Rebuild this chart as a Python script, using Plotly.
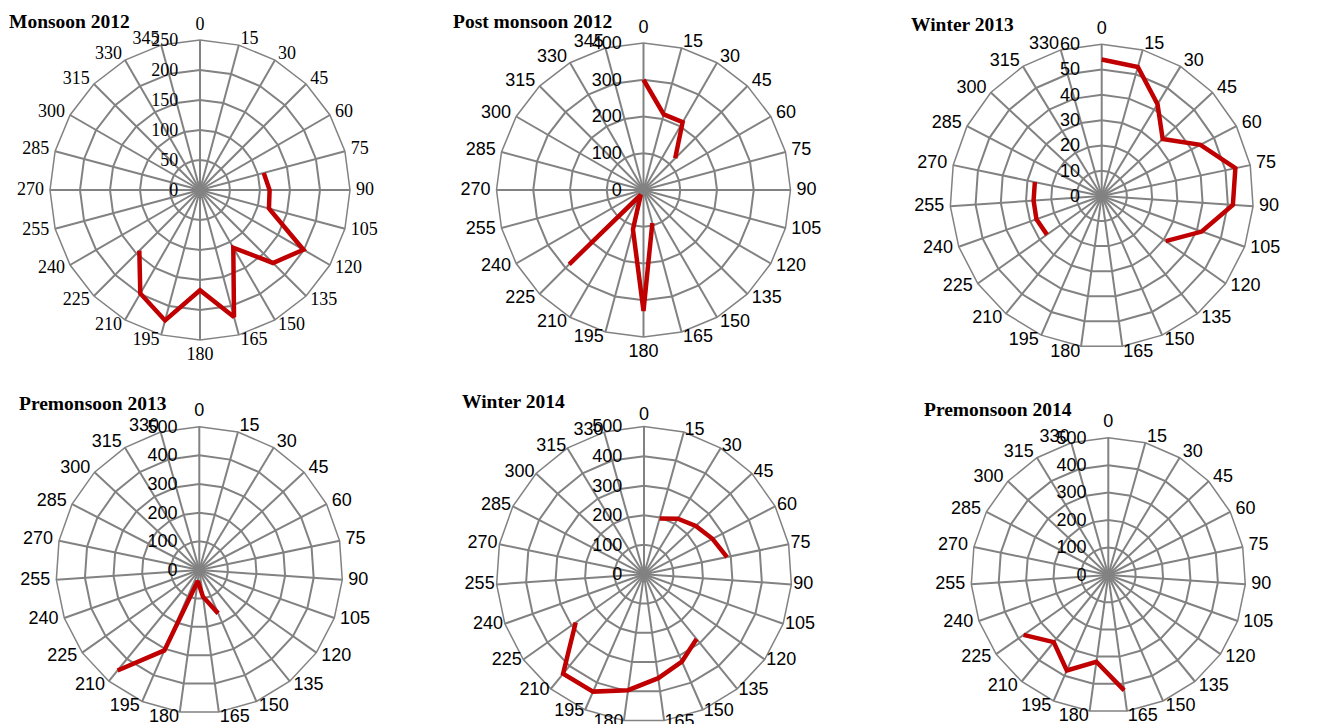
import plotly.graph_objects as go

# Wind-direction categories (degrees)
dirs_24 = [str(d) for d in range(0, 360, 15)]        # 0 .. 345
dirs_23 = [str(d) for d in range(0, 345, 15)]        # 0 .. 330

# Frequency per direction for each season (None = no observation)
monsoon_2012 = [None, None, None, None, None, 110, 116, 119, 199, 172, 111, 219,
                167, 225, 199, 143, None, None, None, None, None, None, None, None]
post_monsoon_2012 = [300, 213, 213, 122, None, None, None, None, None, None, None, 93,
                     329, 111, 15, 286, None, None, None, None, None, None, None, None]
winter_2013 = [54, 53, 42.5, 33, 44, 54, 52, 42, 31, None, None, None,
               None, None, None, 26.5, 27.4, 27, 27, None, None, None, None]
premonsoon_2013 = [None, None, None, None, None, None, None, None, None, None, 165, 94,
                   39, 306, 452, None, None, None, None, None, None, None, None]
winter_2014 = [None, 196, 220, 240, 261, 287, None, None, None, 282, 322, 355,
               396, 433, 434, 283, None, None, None, None, None, None, None]
premonsoon_2014 = [None, None, None, None, None, None, None, None, None, None, None, 424,
                   319, 379, 315, 378, None, None, None, None, None, None, None]

titles = ["Monsoon 2012", "Post monsoon 2012", "Winter 2013",
          "Premonsoon 2013", "Winter 2014", "Premonsoon 2014"]
series = [monsoon_2012, post_monsoon_2012, winter_2013,
          premonsoon_2013, winter_2014, premonsoon_2014]
categories = [dirs_24, dirs_24, dirs_23, dirs_23, dirs_23, dirs_23]
r_max = [250, 400, 60, 500, 500, 500]
r_step = [50, 100, 10, 100, 100, 100]

W, H = 1325, 724
# subplot placement: centre (px) and radius (px)
panels = [(200, 190, 150), (643.5, 190, 147), (1101.7, 196, 151.7),
          (199.3, 570, 143.3), (644, 574.3, 147.7), (1108.3, 575, 137.3)]
title_pos = [(7, 22), (451, 22), (909, 24), (17, 403), (460, 401), (922, 409)]
tick_fonts = ["Liberation Serif"] + ["Liberation Sans"] * 5
LABEL_GAP = 6  # px between outer polygon and direction labels

GRID = "#828282"
LINE = "#c00000"


def label_positions(n):
    """Text anchor for each direction label, depending on which side it sits."""
    pos = []
    for k in range(n):
        a = 360.0 * k / n
        if a == 0:
            pos.append("top center")
        elif a == 180:
            pos.append("bottom center")
        elif a < 180:
            pos.append("middle right")
        else:
            pos.append("middle left")
    return pos


def square_domain(cx, cy, rad):
    # keep the square inside the page
    rad = min(rad, cx, W - cx, cy, H - cy)
    return dict(x=[(cx - rad) / W, (cx + rad) / W],
                y=[1 - (cy + rad) / H, 1 - (cy - rad) / H])


fig = go.Figure()
layout = dict(width=W, height=H, margin=dict(l=0, r=0, t=0, b=0),
              paper_bgcolor="white", plot_bgcolor="white", showlegend=False,
              annotations=[])

for i in range(6):
    key = f"polar{i + 1}" if i else "polar"
    lab_key = f"polar{i + 7}"
    cx, cy, rad = panels[i]
    font = dict(family=tick_fonts[i], size=18, color="black")
    cats = categories[i]

    fig.add_trace(go.Scatterpolar(
        r=series[i], theta=cats, mode="lines",
        line=dict(color=LINE, width=4.5), connectgaps=False,
        subplot=key, hoverinfo="skip"))

    # direction labels on an overlaid, axis-less polar just beyond the rim
    fig.add_trace(go.Scatterpolar(
        r=[1] * len(cats), theta=cats, mode="text", text=cats,
        textposition=label_positions(len(cats)), textfont=font,
        cliponaxis=False, subplot=lab_key, hoverinfo="skip"))

    layout[key] = dict(
        domain=square_domain(cx, cy, rad),
        bgcolor="white",
        gridshape="linear",
        # invisible ticks push the radial labels away from the 0° spoke
        radialaxis=dict(range=[0, r_max[i]], dtick=r_step[i], angle=90,
                        tickangle=90, side="counterclockwise",
                        showline=False, ticks="outside", ticklen=15,
                        tickcolor="rgba(0,0,0,0)",
                        gridcolor=GRID, gridwidth=1.5, tickfont=font),
        angularaxis=dict(type="category", categoryarray=cats,
                         categoryorder="array", direction="clockwise",
                         rotation=90, showline=True, linecolor=GRID,
                         linewidth=1.5, gridcolor=GRID, gridwidth=1.5,
                         ticks="", showticklabels=False),
    )
    layout[lab_key] = dict(
        domain=square_domain(cx, cy, rad + LABEL_GAP),
        bgcolor="rgba(0,0,0,0)",
        radialaxis=dict(range=[0, 1], visible=False),
        angularaxis=dict(type="category", categoryarray=cats,
                         categoryorder="array", direction="clockwise",
                         rotation=90, visible=False),
    )
    tx, ty = title_pos[i]
    layout["annotations"].append(dict(
        text=f"<b>{titles[i]}</b>", x=tx / W, y=1 - ty / H, xref="paper",
        yref="paper", xanchor="left", yanchor="middle", showarrow=False,
        font=dict(family="Liberation Serif", size=19.5, color="black")))

fig.update_layout(**layout)
fig.write_html("out.html")
